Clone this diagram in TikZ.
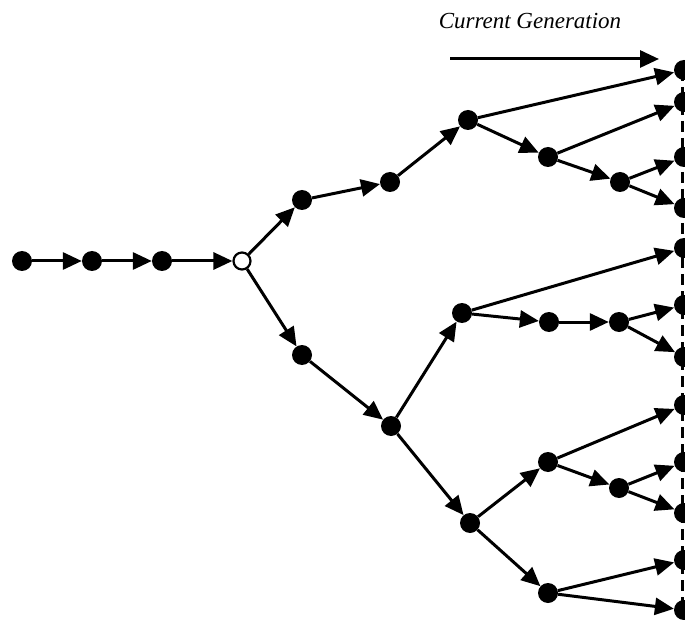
\documentclass[tikz,border=0pt]{standalone}
\usepackage{fontspec}
\setmainfont{Liberation Serif}
\usetikzlibrary{arrows.meta}

\begin{document}
\begin{tikzpicture}[
    x=1pt,
    y=-1pt,
    dot/.style={circle, fill=black, inner sep=0pt, minimum size=20pt},
    opendot/.style={circle, draw=black, fill=white, line width=2.2pt, inner sep=0pt, minimum size=17pt},
    edge/.style={line width=3pt, -{Triangle[length=19pt,width=17pt]}}
]
\useasboundingbox (0,0) rectangle (685,620);

% Label and arrow
\node[font=\fontsize{23}{26}\selectfont\itshape] (title) at (530,21) {Current Generation};
\coordinate (arrowstart) at (450,59);
\coordinate (arrowend) at (659,59);
\draw[edge] (arrowstart) -- (arrowend);

% Chain and branch points
\node[dot] (a1) at (22,261) {};
\node[dot] (a2) at (92,261) {};
\node[dot] (a3) at (162,261) {};
\node[opendot] (root) at (242,261) {};
\node[dot] (u1) at (302,200) {};
\node[dot] (u2) at (390,182) {};
\node[dot] (u3) at (468,120) {};
\node[dot] (u4) at (548,157) {};
\node[dot] (u5) at (620,182) {};
\node[dot] (l1) at (302,355) {};
\node[dot] (d1) at (391,426) {};
\node[dot] (m1) at (462,313) {};
\node[dot] (m2) at (549,322) {};
\node[dot] (m3) at (619,322) {};
\node[dot] (d2) at (470,523) {};
\node[dot] (e1) at (548,462) {};
\node[dot] (e2) at (619,488) {};
\node[dot] (e3) at (548,593) {};

% Current generation
\draw[line width=3pt, dash pattern=on 11pt off 6pt] (682,70) -- (682,612);
\foreach \i/\y in {1/70, 2/102, 3/157, 4/208, 5/248, 6/305, 7/357, 8/405, 9/462, 10/513, 11/560, 12/610} {
    \node[dot] (L\i) at (684,\y) {};
}

% Edges
\foreach \s/\t in {a1/a2, a2/a3, a3/root,
    root/u1, u1/u2, u2/u3, u3/L1, u3/u4, u4/L2, u4/u5, u5/L3, u5/L4,
    root/l1, l1/d1, d1/m1, m1/L5, m1/m2, m2/m3, m3/L6, m3/L7,
    d1/d2, d2/e1, e1/L8, e1/e2, e2/L9, e2/L10, d2/e3, e3/L11, e3/L12} {
    \draw[edge] (\s) -- (\t);
}

\end{tikzpicture}
\end{document}
